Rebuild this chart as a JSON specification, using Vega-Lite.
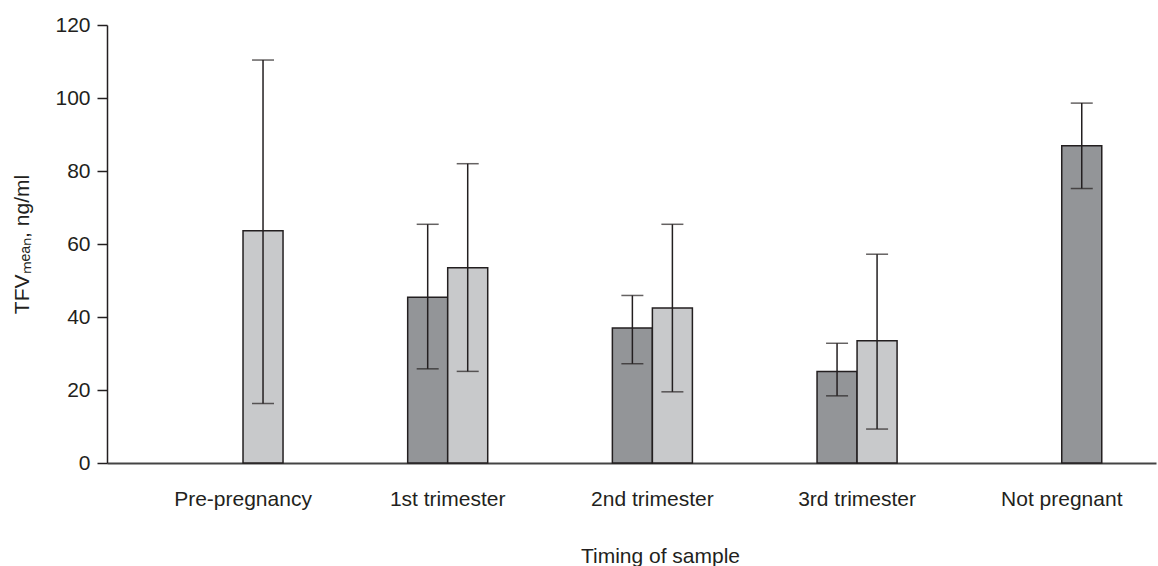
{
  "$schema": "https://vega.github.io/schema/vega-lite/v6.json",
  "width": 1049,
  "height": 438,
  "autosize": {"type": "none"},
  "padding": {"left": 107, "top": 25, "right": 2, "bottom": 103},
  "background": "white",
  "config": {
    "view": {"stroke": null},
    "font": "Liberation Sans",
    "axis": {"labelFont": "Liberation Sans", "titleFont": "Liberation Sans", "labelColor": "#231f20", "titleColor": "#231f20", "titleFontWeight": "normal", "labelFontSize": 21, "titleFontSize": 21}
  },
  "data": {
    "values": [
      {"timing": "Pre-pregnancy", "group": "B", "slot": "2", "mean": 63.6, "lo": 16.3, "hi": 110.4},
      {"timing": "1st trimester", "group": "A", "slot": "1", "mean": 45.4, "lo": 25.8, "hi": 65.4},
      {"timing": "1st trimester", "group": "B", "slot": "2", "mean": 53.5, "lo": 25.1, "hi": 82.0},
      {"timing": "2nd trimester", "group": "A", "slot": "1", "mean": 37.0, "lo": 27.2, "hi": 45.9},
      {"timing": "2nd trimester", "group": "B", "slot": "2", "mean": 42.5, "lo": 19.5, "hi": 65.4},
      {"timing": "3rd trimester", "group": "A", "slot": "1", "mean": 25.1, "lo": 18.4, "hi": 32.8},
      {"timing": "3rd trimester", "group": "B", "slot": "2", "mean": 33.5, "lo": 9.3, "hi": 57.2},
      {"timing": "Not pregnant", "group": "A", "slot": "2", "mean": 86.9, "lo": 75.2, "hi": 98.6}
    ]
  },
  "encoding": {
    "x": {
      "field": "timing",
      "type": "nominal",
      "sort": ["Pre-pregnancy", "1st trimester", "2nd trimester", "3rd trimester", "Not pregnant"],
      "scale": {"paddingInner": 0.609, "paddingOuter": 0.367, "align": 0.639},
      "axis": {
        "title": "Timing of sample",
        "labelAngle": 0,
        "ticks": false,
        "labelPadding": 36,
        "labelBaseline": "middle",
        "domainColor": "#444444",
        "domainWidth": 2,
        "titlePadding": 36,
        "titleX": 553
      }
    },
    "xOffset": {"field": "slot", "type": "nominal", "sort": ["1", "2"], "scale": {"paddingInner": 0, "paddingOuter": 0}}
  },
  "layer": [
    {
      "mark": {"type": "bar", "stroke": "#231f20", "strokeWidth": 1.5},
      "encoding": {
        "y": {
          "field": "mean",
          "type": "quantitative",
          "scale": {"domain": [0, 120], "nice": false},
          "axis": {
            "title": "TFVₘₑₐₙ, ng/ml",
            "values": [0, 20, 40, 60, 80, 100, 120],
            "grid": false,
            "tickSize": 10,
            "tickColor": "#231f20",
            "tickWidth": 1.5,
            "domainColor": "#231f20",
            "domainWidth": 1.5,
            "labelPadding": 7,
            "titlePadding": 22
          }
        },
        "color": {
          "field": "group",
          "type": "nominal",
          "scale": {"domain": ["A", "B"], "range": ["#939598", "#c8c9cb"]},
          "legend": null
        }
      }
    },
    {
      "mark": {"type": "rule", "color": "#231f20", "strokeWidth": 1.5},
      "encoding": {
        "y": {"field": "lo", "type": "quantitative"},
        "y2": {"field": "hi"}
      }
    },
    {
      "mark": {"type": "tick", "color": "#231f20", "size": 22, "thickness": 1.5},
      "encoding": {"y": {"field": "lo", "type": "quantitative"}}
    },
    {
      "mark": {"type": "tick", "color": "#231f20", "size": 22, "thickness": 1.5},
      "encoding": {"y": {"field": "hi", "type": "quantitative"}}
    }
  ]
}
